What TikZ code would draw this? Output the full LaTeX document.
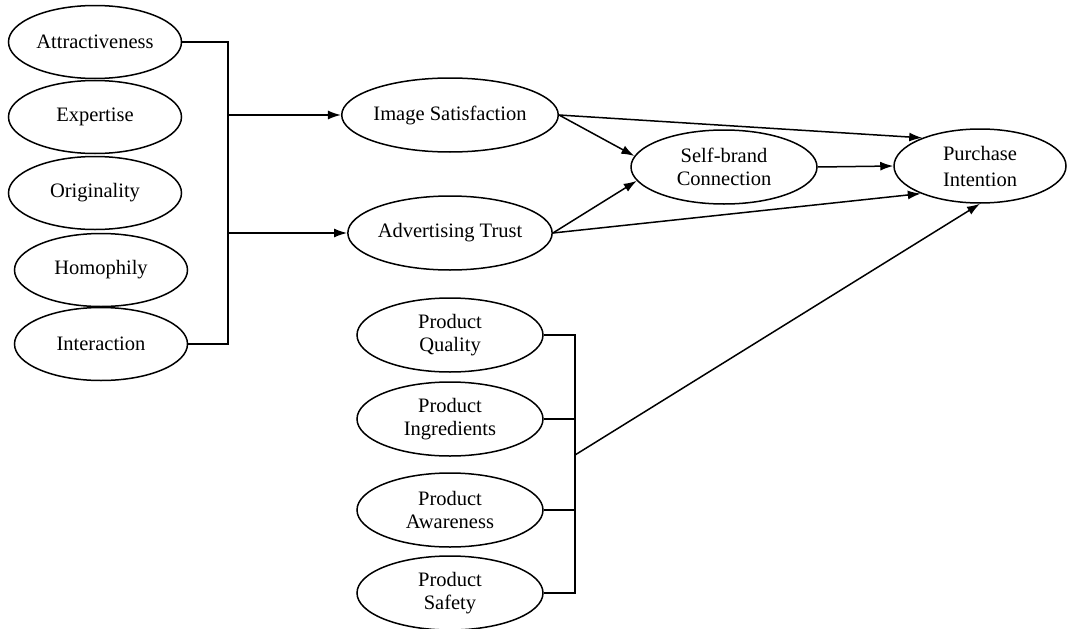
\documentclass[tikz,border=0pt]{standalone}
\usepackage{fontspec}
\setmainfont{Liberation Serif}
\usetikzlibrary{shapes.geometric,arrows.meta}
\begin{document}
\begin{tikzpicture}[x=1pt,y=-1pt,
  every path/.style={line width=1.5pt},
  var/.style={draw,ellipse,inner sep=0pt,minimum width=186pt,minimum height=74pt,
    align=center,font=\fontsize{20.5}{23}\selectfont},
  lvar/.style={var,minimum width=173pt,minimum height=73pt},
  arr/.style={-{Latex[length=13pt,width=9pt]}}]
\useasboundingbox (0,0) rectangle (1068,629);
\node[lvar] (att) at (95,42) {Attractiveness};
\node[lvar] (exp) at (95,117) {Expertise};
\node[lvar] (ori) at (95,193) {Originality};
\node[lvar] (hom) at (101,270) {Homophily};
\node[lvar] (int) at (101,344) {Interaction};
\node[var] (img) at (450,115) {Image Satisfaction};
\node[var] (adv) at (450,233) {Advertising Trust};
\node[var] (sbc) at (724,167) {Self-brand\\Connection};
\node[var,minimum width=172pt,font=\fontsize{20.5}{26}\selectfont] (pi) at (980,166) {Purchase\\Intention};
\node[var] (pq) at (450,335) {Product\\Quality};
\node[var] (pg) at (450,419) {Product\\Ingredients};
\node[var] (pa) at (450,510) {Product\\Awareness};
\node[var] (ps) at (450,593) {Product\\Safety};
% left bracket
\coordinate (lt) at (228,42);
\coordinate (lb) at (228,344);
\coordinate (l1) at (228,115);
\coordinate (l2) at (228,233);
\draw (att.east) -- (lt) -- (lb) -- (int.east);
\draw[arr] (l1) -- (img);
\draw[arr] (l2) -- (adv);
% middle arrows
\draw[arr] (img.east) -- (pi.154);
\draw[arr] (img.east) -- (sbc.173);
\draw[arr] (adv.east) -- (sbc.189);
\draw[arr] (adv.east) -- (pi.205);
\draw[arr] (sbc.east) -- (pi.west);
% bottom bracket
\coordinate (rt) at (575,335);
\coordinate (rb) at (575,593);
\coordinate (rm) at (575,455);
\draw (pq.east) -- (rt) -- (rb) -- (ps.east);
\draw (pg.east) -- (pg.east -| rt);
\draw (pa.east) -- (pa.east -| rt);
\draw[arr] (rm) -- (pi.south);
\end{tikzpicture}
\end{document}
